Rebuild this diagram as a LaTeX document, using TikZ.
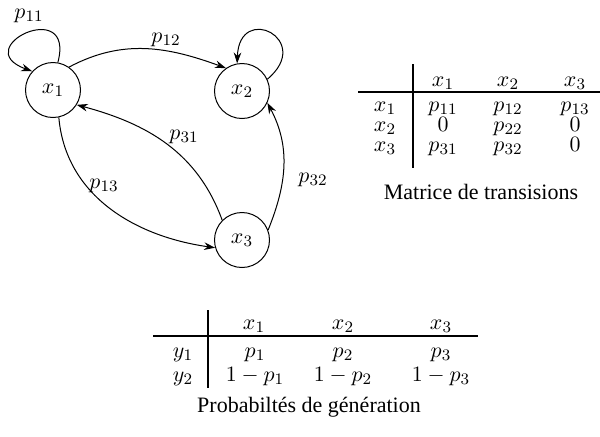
\documentclass[tikz,border=0pt]{standalone}
\usepackage{fontspec}
\setmainfont{Liberation Serif}
\usetikzlibrary{arrows.meta}
\begin{document}
\begin{tikzpicture}[x=0.5pt,y=-0.5pt,
  every node/.style={font=\fontsize{11}{13}\selectfont},
  state/.style={draw,circle,minimum size=27.5pt,inner sep=0pt,line width=0.5pt},
  edge/.style={line width=0.5pt,-{Stealth[length=5.5pt,width=3.8pt]}},
  lbl/.style={inner sep=1pt},
  rule/.style={line width=1pt},
  cell/.style={inner sep=0pt,anchor=base}]
\useasboundingbox (0,0) rectangle (600,436);
% graph
\node[state] (x1) at (53,90) {$x_1$};
\node[state] (x2) at (242,91) {$x_2$};
\node[state] (x3) at (242,240) {$x_3$};
\draw[edge] (x1.80) to[out=75,in=160,looseness=6.5] (x1.138);
\draw[edge] (x2.25) to[out=40,in=88,looseness=4.6] (x2.100);
\draw[edge] (x1.55) to[out=28,in=160] (x2.125);
\draw[edge] (x1.-78) to[out=-85,in=172] (x3.196);
\draw[edge] (x3.135) to[out=110,in=-15] (x1.-32);
\draw[edge] (x3.21) to[out=68,in=-62] (x2.-25);
\node[lbl] (l11) at (29,16) {$p_{11}$};
\node[lbl] (l12) at (166,40) {$p_{12}$};
\node[lbl] (l31) at (184,137) {$p_{31}$};
\node[lbl] (l13) at (104,186) {$p_{13}$};
\node[lbl] (l32) at (313,180) {$p_{32}$};
% table 1
\coordinate (v1t) at (413,64);
\coordinate (v1b) at (413,168);
\coordinate (h1l) at (358,92);
\coordinate (h1r) at (600,92);
\draw[rule] (v1t) -- (v1b);
\draw[rule] (h1l) -- (h1r);
\node[cell] (a01) at (443,86) {$x_1$};
\node[cell] (a02) at (508,86) {$x_2$};
\node[cell] (a03) at (575,86) {$x_3$};
\node[cell] (a10) at (385,111) {$x_1$};
\node[cell] (a11) at (443,111) {$p_{11}$};
\node[cell] (a12) at (508,111) {$p_{12}$};
\node[cell] (a13) at (575,111) {$p_{13}$};
\node[cell] (a20) at (385,131) {$x_2$};
\node[cell] (a21) at (443,131) {$0$};
\node[cell] (a22) at (508,131) {$p_{22}$};
\node[cell] (a23) at (575,131) {$0$};
\node[cell] (a30) at (385,151) {$x_3$};
\node[cell] (a31) at (443,151) {$p_{31}$};
\node[cell] (a32) at (508,151) {$p_{32}$};
\node[cell] (a33) at (575,151) {$0$};
\node (cap1) at (481,192) {Matrice de transisions};
% table 2
\coordinate (v2t) at (208,310);
\coordinate (v2b) at (208,388);
\coordinate (h2l) at (153,336);
\coordinate (h2r) at (478,336);
\draw[rule] (v2t) -- (v2b);
\draw[rule] (h2l) -- (h2r);
\node[cell] (b01) at (254,329) {$x_1$};
\node[cell] (b02) at (343,329) {$x_2$};
\node[cell] (b03) at (441,329) {$x_3$};
\node[cell] (b10) at (183,357) {$y_1$};
\node[cell] (b11) at (255,357) {$p_1$};
\node[cell] (b12) at (343,357) {$p_2$};
\node[cell] (b13) at (441,357) {$p_3$};
\node[cell] (b20) at (183,381) {$y_2$};
\node[cell] (b21) at (255,381) {$1-p_1$};
\node[cell] (b22) at (343,381) {$1-p_2$};
\node[cell] (b23) at (441,381) {$1-p_3$};
\node (cap2) at (309,407) {Probabiltés de génération};
\end{tikzpicture}
\end{document}
